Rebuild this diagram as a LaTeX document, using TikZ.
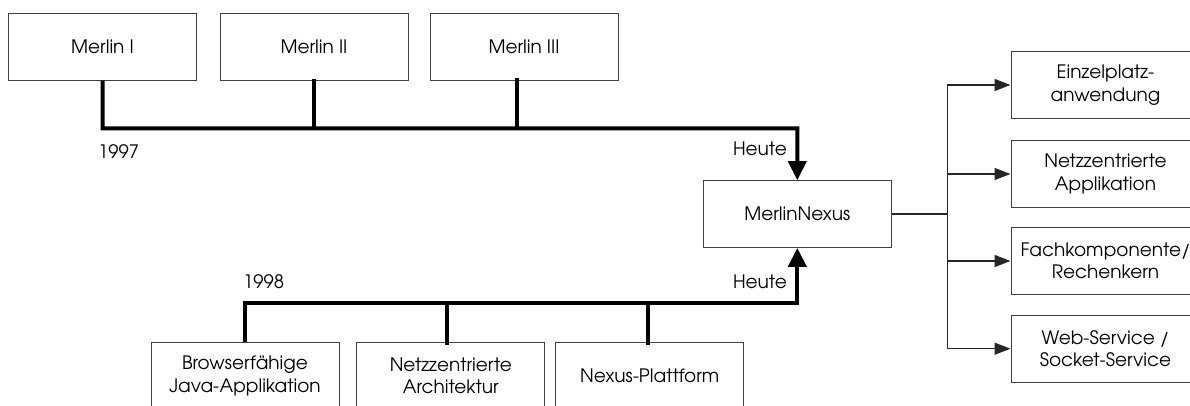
\documentclass[tikz,border=0pt]{standalone}
\usepackage{fontspec}
\setmainfont{TeX Gyre Adventor}
\usetikzlibrary{arrows.meta}
\tikzset{
  box/.style={draw=black!75, line width=1pt, minimum width=188pt, minimum height=66.7pt, inner sep=0pt, align=center, font=\fontsize{18.5}{22.5}\selectfont},
  bus/.style={line width=4pt, line cap=rect},
  busarrow/.style={line width=4pt, -{Triangle[length=19pt,width=18pt]}},
  branch/.style={line width=1.4pt, draw=black!85},
  brarrow/.style={line width=1.4pt, draw=black!85, -{Triangle[length=16pt,width=12pt]}},
  lbl/.style={font=\fontsize{18.5}{22.5}\selectfont, inner sep=0pt}
}
\begin{document}
\begin{tikzpicture}[x=1pt,y=-1pt]
\useasboundingbox (0,0) rectangle (1190,405);
\begin{scope}
\clip (0,0) rectangle (1190,405);
% top row
\node[box] (m1) at (102.5,46.7) {Merlin I};
\node[box] (m2) at (314,46.7) {Merlin II};
\node[box] (m3) at (524,46.7) {Merlin III};
% center
\node[box] (nx) at (797.3,214) {MerlinNexus};
% right column
\node[box, minimum width=189pt] (r1) at (1105.5,85) {Einzelplatz-\\anwendung};
\node[box, minimum width=189pt] (r2) at (1105.5,174) {Netzzentrierte\\Applikation};
\node[box, minimum width=189pt] (r3) at (1105.5,261) {Fachkomponente/\\Rechenkern};
\node[box, minimum width=189pt] (r4) at (1105.5,348.7) {Web-Service /\\Socket-Service};
% bottom row
\node[box] (b1) at (245,376) {Browserfähige\\Java-Applikation};
\node[box] (b2) at (450.8,376) {Netzzentrierte\\Architektur};
\node[box] (b3) at (649.7,376) {Nexus-Plattform};

% coordinates
\coordinate (t1) at (102.7,128.3);
\coordinate (t3) at (516.7,80);
\coordinate (u2) at (446.7,342.7);
\coordinate (u3) at (648.3,342.7);
\coordinate (br) at (947.5,214);

% top bus
\draw[busarrow] (m1.south) -- (t1) -| (nx.north);
\draw[bus] (m2.south) -- (m2.south |- t1);
\draw[bus] (t3) -- (t3 |- t1);

% bottom bus
\coordinate (s1) at (245,302.7);
\draw[busarrow] (b1.north) -- (s1) -| (nx.south);
\draw[bus] (u2) -- (u2 |- s1);
\draw[bus] (u3) -- (u3 |- s1);

% labels
\node[lbl, anchor=west] (y97) at (98,152) {1997};
\node[lbl, anchor=east] (h1) at (787,149) {Heute};
\node[lbl, anchor=west] (y98) at (243,282) {1998};
\node[lbl, anchor=east] (h2) at (787,282) {Heute};

% right branches
\draw[branch] (nx.east) -- (br);
\draw[brarrow] (br) |- (r1.west);
\draw[brarrow] (br) |- (r2.west);
\draw[brarrow] (br) |- (r3.west);
\draw[brarrow] (br) |- (r4.west);
\end{scope}
\end{tikzpicture}
\end{document}
